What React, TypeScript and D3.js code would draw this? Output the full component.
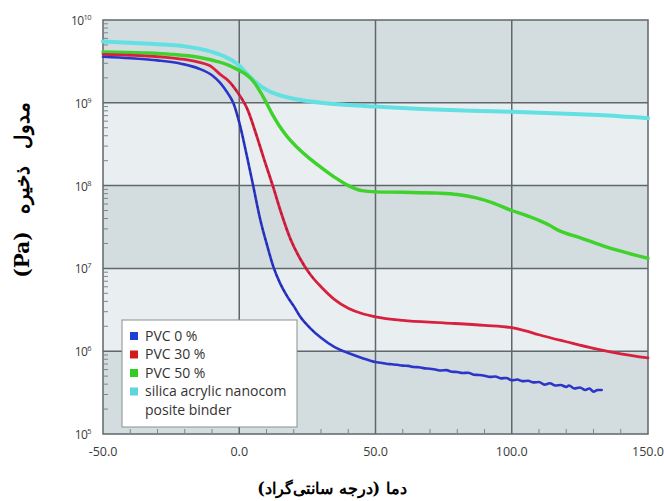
import React from "react";
import * as d3 from "d3";

const temps0 = [-50, -40, -30, -21, -15, -10, -7, -4.5, -2.2, 0, 2.9, 5.1, 7.7, 10.3, 12.5, 15, 17.6, 20, 22.4, 26, 30, 35, 40, 45, 50, 52, 54, 56, 58, 60, 62, 64, 66, 68, 70, 72, 74, 76, 78, 80, 82, 84, 86, 88, 90, 92, 94, 96, 98, 100, 102, 104, 106, 108, 110, 112, 114, 116, 118, 120, 121, 123, 125, 127, 128.5, 130, 131.5, 133];
const pvc0 = [3.6e9, 3.45e9, 3.25e9, 2.95e9, 2.6e9, 2.15e9, 1.74e9, 1.35e9, 1.0e9, 5.8e8, 2.2e8, 1.0e8, 3.9e7, 1.86e7, 1.05e7, 6.6e6, 4.6e6, 3.5e6, 2.6e6, 1.9e6, 1.45e6, 1.12e6, 9.5e5, 8.3e5, 7.4e5, 7.25e5, 7.05e5, 6.95e5, 6.85e5, 6.7e5, 6.65e5, 6.45e5, 6.4e5, 6.2e5, 6.15e5, 6.0e5, 5.85e5, 5.9e5, 5.65e5, 5.6e5, 5.45e5, 5.5e5, 5.2e5, 5.15e5, 5.05e5, 4.9e5, 4.95e5, 4.7e5, 4.75e5, 4.45e5, 4.55e5, 4.35e5, 4.4e5, 4.2e5, 4.25e5, 3.95e5, 4.1e5, 3.85e5, 3.9e5, 3.7e5, 3.85e5, 3.55e5, 3.65e5, 3.4e5, 3.55e5, 3.25e5, 3.4e5, 3.4e5];

const temps30 = [-50, -40, -30, -22, -15, -10, -7, -4, -0.7, 2.9, 6.6, 8.8, 12.5, 15.1, 18.7, 22.4, 26, 30, 35, 40, 45, 50, 60, 75, 90, 100, 104, 110, 120, 130, 140, 150];
const pvc30 = [3.85e9, 3.75e9, 3.6e9, 3.4e9, 3.1e9, 2.7e9, 2.2e9, 1.85e9, 1.35e9, 8.5e8, 3.8e8, 2.24e8, 9.5e7, 5.0e7, 2.3e7, 1.3e7, 8.5e6, 6.0e6, 4.2e6, 3.3e6, 2.85e6, 2.6e6, 2.35e6, 2.2e6, 2.05e6, 1.92e6, 1.8e6, 1.58e6, 1.3e6, 1.08e6, 9.3e5, 8.3e5];

const temps50 = [-50, -35, -25, -15, -8, -4, 0, 2, 4, 5.5, 7, 9.5, 12, 14.5, 17.6, 21, 25, 30, 35, 40, 45, 50, 60, 73, 80, 87, 93, 100, 105, 110, 114, 117, 125, 133, 142, 150];
const pvc50 = [4.1e9, 4.0e9, 3.85e9, 3.55e9, 3.15e9, 2.85e9, 2.45e9, 2.26e9, 2.0e9, 1.76e9, 1.48e9, 1.07e9, 7.4e8, 5.4e8, 3.9e8, 2.95e8, 2.24e8, 1.66e8, 1.26e8, 1.0e8, 8.7e7, 8.4e7, 8.3e7, 8.1e7, 7.8e7, 7.1e7, 6.2e7, 5.0e7, 4.4e7, 3.8e7, 3.3e7, 2.9e7, 2.35e7, 1.9e7, 1.55e7, 1.32e7];

const tempsSilica = [-50, -40, -30, -20, -12, -6, -2.6, 0, 2, 4, 6, 8, 11, 15, 20, 25, 30, 40, 50, 67, 85, 100, 120, 132, 150];
const silica = [5.5e9, 5.3e9, 5.1e9, 4.8e9, 4.3e9, 3.7e9, 3.25e9, 2.8e9, 2.4e9, 2.05e9, 1.78e9, 1.58e9, 1.38e9, 1.23e9, 1.12e9, 1.05e9, 1.0e9, 9.4e8, 9.0e8, 8.4e8, 8.0e8, 7.8e8, 7.4e8, 7.1e8, 6.5e8];

const xTicks = [-50, 0, 50, 100, 150];
const xTickLabels = ["-50.0", "0.0", "50.0", "100.0", "150.0"];
const yExponents = [10, 9, 8, 7, 6, 5];

const seriesNames = ["PVC 0 %", "PVC 30 %", "PVC 50 %", "silica acrylic nanocom", "posite binder"];
const xTitle = "دما (درجه سانتی‌گراد)";
const yTitle = "مدول ذخیره (Pa)";

const COLORS = ["#2b36c9", "#d8213f", "#3fd12c", "#62e0e2"];
const SWATCH = ["#1f3fd3", "#d31a1a", "#33cc22", "#5cd5df"];

export default function App() {
  const W = 664, H = 501;
  const left = 103, right = 648, top = 20, bottom = 434;
  const x = d3.scaleLinear().domain([-50, 150]).range([left, right]);
  const y = d3.scaleLog().domain([1e5, 1e10]).range([bottom, top]);

  const series = [
    { t: temps0, v: pvc0, w: 2.6 },
    { t: temps30, v: pvc30, w: 2.8 },
    { t: temps50, v: pvc50, w: 3.4 },
    { t: tempsSilica, v: silica, w: 4 },
  ];
  const line = d3
    .line<[number, number]>()
    .x((d) => x(d[0]))
    .y((d) => y(d[1]))
    .curve(d3.curveMonotoneX);

  const bands: { y0: number; y1: number; fill: string }[] = [];
  for (let e = 10; e > 5; e--) {
    bands.push({
      y0: y(Math.pow(10, e)),
      y1: y(Math.pow(10, e - 1)),
      fill: (10 - e) % 2 === 0 ? "#d3dcdf" : "#e9eff1",
    });
  }

  const minorY: number[] = [];
  for (let e = 5; e < 10; e++) {
    for (let k = 2; k <= 9; k++) minorY.push(k * Math.pow(10, e));
  }
  const minorX = d3.range(-40, 150, 10).filter((v) => v % 50 !== 0);

  const gridColor = "#5f676b";
  const lx = 122, ly = 320, lw = 175, lh = 107;
  const sans = "'Open Sans', 'Liberation Sans', sans-serif";

  return (
    <svg width={W} height={H} style={{ position: "absolute", left: 0, top: 0, background: "#fff" }}>
      <defs>
        <clipPath id="steep">
          <rect x={x(-3)} y={top} width={x(28) - x(-3)} height={bottom - top} />
        </clipPath>
      </defs>
      {bands.map((b, i) => (
        <rect key={i} x={left} y={b.y0} width={right - left} height={b.y1 - b.y0} fill={b.fill} />
      ))}
      {yExponents.slice(1, -1).map((e) => (
        <line key={e} x1={left} x2={right} y1={y(Math.pow(10, e))} y2={y(Math.pow(10, e))} stroke={gridColor} strokeWidth={1.5} />
      ))}
      {xTicks.slice(1, -1).map((t) => (
        <line key={t} x1={x(t)} x2={x(t)} y1={top} y2={bottom} stroke={gridColor} strokeWidth={1.5} />
      ))}
      <rect x={left} y={top} width={right - left} height={bottom - top} fill="none" stroke={gridColor} strokeWidth={1.5} />
      {minorY.map((v, i) => (
        <line key={i} x1={left} x2={left + 5} y1={y(v)} y2={y(v)} stroke="#7d8589" strokeWidth={1} />
      ))}
      {minorX.map((v) => (
        <line key={v} x1={x(v)} x2={x(v)} y1={bottom} y2={bottom - 5} stroke="#7d8589" strokeWidth={1} />
      ))}
      {series
        .map((s, i) => (
          <path
            key={i}
            d={line(s.t.map((t, j) => [t, s.v[j]] as [number, number])) || ""}
            fill="none"
            stroke={COLORS[i]}
            strokeWidth={s.w}
            strokeLinejoin="round"
            strokeLinecap="round"
          />
        ))
        .reverse()}
      {[0, 1].map((i) => (
        <path
          key={"dots" + i}
          clipPath="url(#steep)"
          d={line(series[i].t.map((t, j) => [t, series[i].v[j]] as [number, number])) || ""}
          fill="none"
          stroke={i === 0 ? "#1a2070" : "#7a1830"}
          strokeWidth={1.6}
          strokeDasharray="1.5 4"
          opacity={0.7}
        />
      ))}
      {xTicks.map((t, i) => (
        <text key={t} x={x(t)} y={456} textAnchor="middle" fontFamily={sans} fontSize={12.5} fill="#3a3a3a">
          {xTickLabels[i]}
        </text>
      ))}
      {yExponents.map((e) => (
        <text key={e} x={91} y={y(Math.pow(10, e)) + 5} textAnchor="end" fontFamily={sans} fontSize={12} fill="#3a3a3a" letterSpacing={-0.6}>
          10
          <tspan dy={-5} fontSize={7.5}>{e}</tspan>
        </text>
      ))}
      <rect x={lx} y={ly} width={lw} height={lh} fill="#ffffff" stroke="#8a8f92" strokeWidth={1} />
      {seriesNames.map((n, i) => (
        <g key={n}>
          {i < 4 && <rect x={lx + 8} y={ly + 12 + i * 18.5} width={8} height={8} fill={SWATCH[i]} />}
          <text x={lx + 23} y={ly + 20.5 + i * 18.5} fontFamily={sans} fontSize={14} fill="#333">
            {n}
          </text>
        </g>
      ))}
      <text x={332} y={494} textAnchor="middle" fontFamily="'DejaVu Serif', 'Liberation Serif', serif" fontWeight="bold" fontSize={16} fill="#000" direction="rtl">
        {xTitle}
      </text>
      <text
        transform={`translate(29, 190) rotate(-90)`}
        textAnchor="middle"
        fontFamily="'DejaVu Serif', 'Liberation Serif', serif"
        fontWeight="bold"
        fontSize={20}
        fill="#000"
        direction="rtl"
        wordSpacing={10}
      >
        {yTitle}
      </text>
    </svg>
  );
}
